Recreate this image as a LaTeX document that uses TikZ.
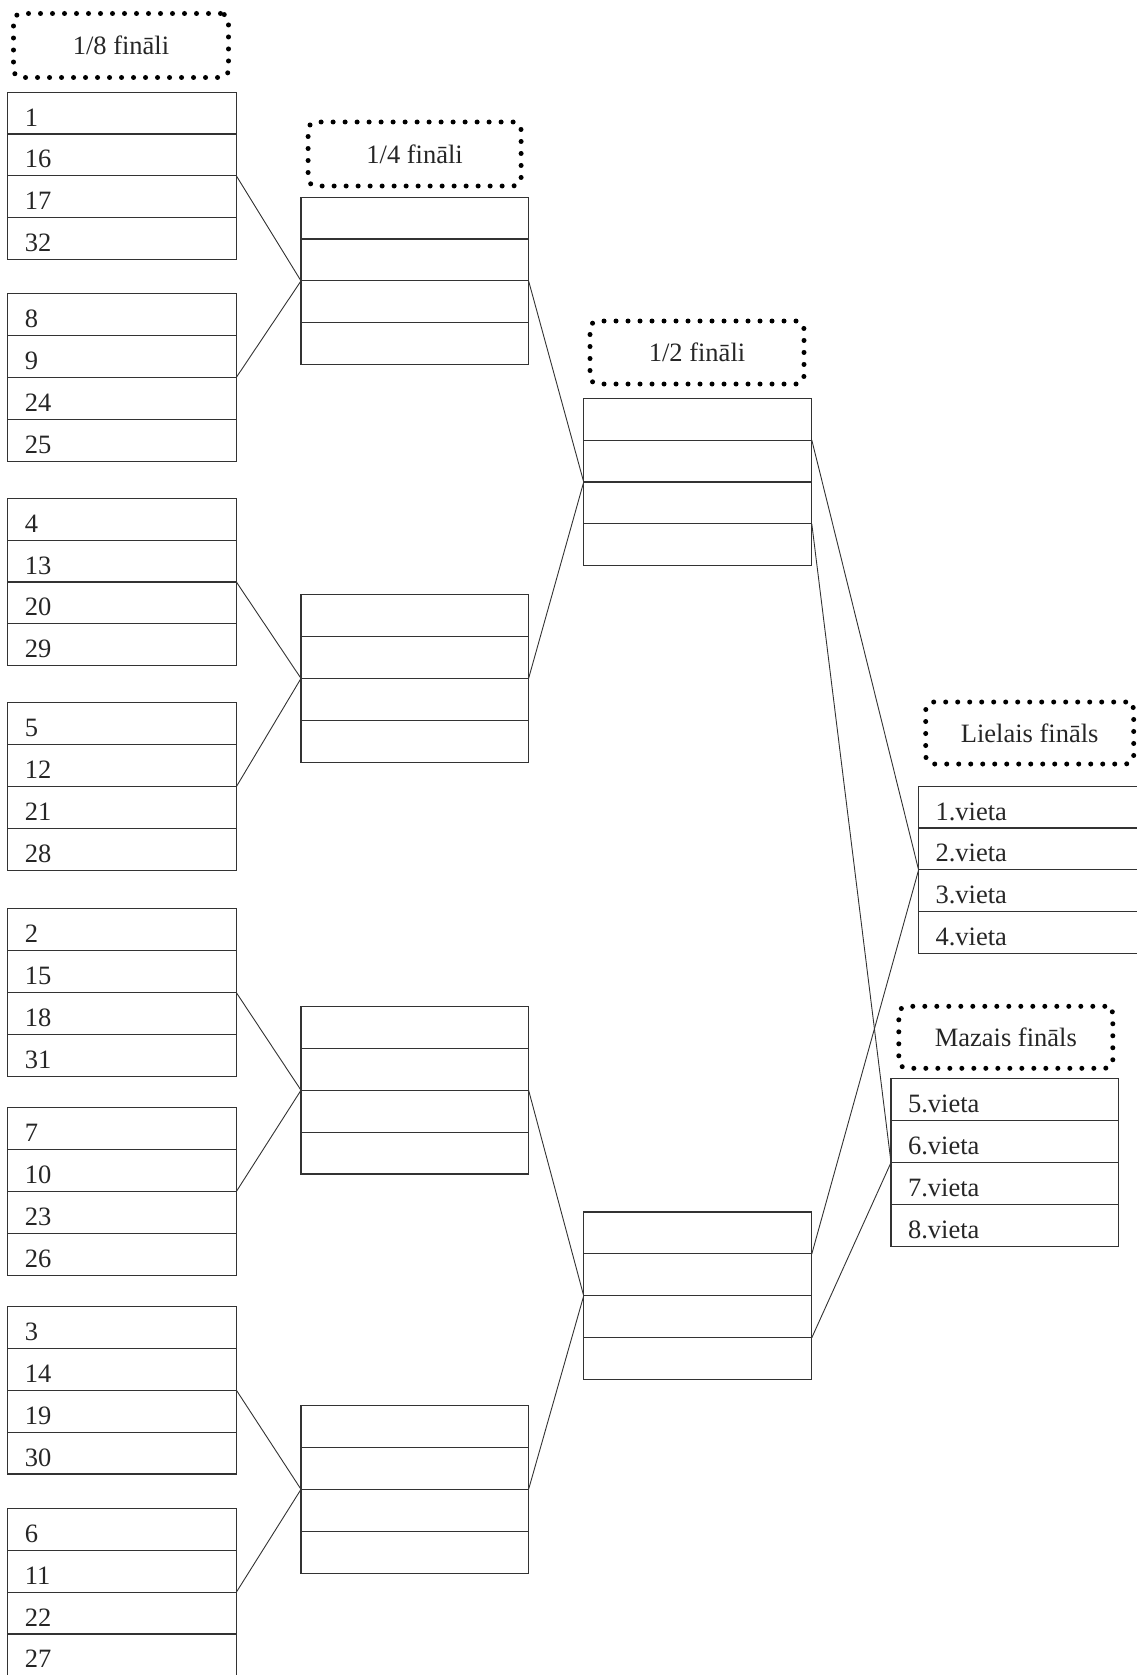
\documentclass[tikz,border=0pt]{standalone}
\usepackage{fontspec}
\setmainfont{Liberation Serif}
\tikzset{
  cell/.style={draw=black!80, line width=1.1pt, rectangle, inner xsep=17pt, inner ysep=0pt,
    outer sep=0pt, minimum height=41.9pt, text height=26pt, text depth=0pt, align=left,
    anchor=north west, font=\fontsize{26.5}{29}\selectfont, text=black!85},
  dotlabel/.style={draw=black, line width=5pt, dash pattern=on 0pt off 12pt, line cap=round,
    rounded corners=8pt, inner sep=0pt, outer sep=0pt,
    font=\fontsize{26.5}{29}\selectfont, text=black!85},
  link/.style={draw=black!80, line width=0.9pt}
}
\newcommand{\stackbox}[8]{%
  \pgfmathsetmacro{\tw}{#4-34}%
  \node[cell, minimum width=#4pt, text width=\tw pt] (#1r1) at (#2,#3) {#5};
  \node[cell, minimum width=#4pt, text width=\tw pt] (#1r2) at (#1r1.south west) {#6};
  \node[cell, minimum width=#4pt, text width=\tw pt] (#1r3) at (#1r2.south west) {#7};
  \node[cell, minimum width=#4pt, text width=\tw pt] (#1r4) at (#1r3.south west) {#8};
}
\begin{document}
\begin{tikzpicture}[x=1pt, y=-1pt]
\path[use as bounding box, fill=white] (0,0) rectangle (1137,1675);
\clip (0,0) rectangle (1137,1675);

% round labels
\node[dotlabel, minimum width=215pt, minimum height=64pt] (l8) at (121,45.5) {1/8 fināli};
\node[dotlabel, minimum width=213pt, minimum height=64pt] (l4) at (414.6,154) {1/4 fināli};
\node[dotlabel, minimum width=214pt, minimum height=63pt] (l2) at (697,352.5) {1/2 fināli};
\node[dotlabel, minimum width=208pt, minimum height=62pt] (lbig) at (1029.7,733) {Lielais fināls};
\node[dotlabel, minimum width=214pt, minimum height=62pt] (lsmall) at (1005.8,1037.3) {Mazais fināls};

% 1/8 finals
\stackbox{g1}{7.9}{92.1}{228.5}{1}{16}{17}{32}
\stackbox{g2}{7.9}{293.5}{228.5}{8}{9}{24}{25}
\stackbox{g3}{7.9}{498.2}{228.5}{4}{13}{20}{29}
\stackbox{g4}{7.9}{702.8}{228.5}{5}{12}{21}{28}
\stackbox{g5}{7.9}{908.9}{228.5}{2}{15}{18}{31}
\stackbox{g6}{7.9}{1107.6}{228.5}{7}{10}{23}{26}
\stackbox{g7}{7.9}{1306.4}{228.5}{3}{14}{19}{30}
\stackbox{g8}{7.9}{1508.3}{228.5}{6}{11}{22}{27}

% 1/4 finals
\stackbox{q1}{301}{197.1}{227.6}{}{}{}{}
\stackbox{q2}{301}{594.6}{227.6}{}{}{}{}
\stackbox{q3}{301}{1006.4}{227.6}{}{}{}{}
\stackbox{q4}{301}{1405.5}{227.6}{}{}{}{}

% 1/2 finals
\stackbox{s1}{583.7}{398.2}{228.1}{}{}{}{}
\stackbox{s2}{583.7}{1212}{228.1}{}{}{}{}

% finals
\stackbox{fL}{918.6}{786.1}{240}{1.vieta}{2.vieta}{3.vieta}{4.vieta}
\stackbox{fM}{891}{1078.7}{227.7}{5.vieta}{6.vieta}{7.vieta}{8.vieta}

% connectors 1/8 -> 1/4
\draw[link] (g1r2.south east) -- (q1r2.south west);
\draw[link] (g2r2.south east) -- (q1r2.south west);
\draw[link] (g3r2.south east) -- (q2r2.south west);
\draw[link] (g4r2.south east) -- (q2r2.south west);
\draw[link] (g5r2.south east) -- (q3r2.south west);
\draw[link] (g6r2.south east) -- (q3r2.south west);
\draw[link] (g7r2.south east) -- (q4r2.south west);
\draw[link] (g8r2.south east) -- (q4r2.south west);

% 1/4 -> 1/2
\draw[link] (q1r2.south east) -- (s1r2.south west);
\draw[link] (q2r2.south east) -- (s1r2.south west);
\draw[link] (q3r2.south east) -- (s2r2.south west);
\draw[link] (q4r2.south east) -- (s2r2.south west);

% 1/2 -> finals
\draw[link] (s1r1.south east) -- (fLr2.south west);
\draw[link] (s2r1.south east) -- (fLr2.south west);
\draw[link] (s1r3.south east) -- (fMr2.south west);
\draw[link] (s2r3.south east) -- (fMr2.south west);
\end{tikzpicture}
\end{document}
